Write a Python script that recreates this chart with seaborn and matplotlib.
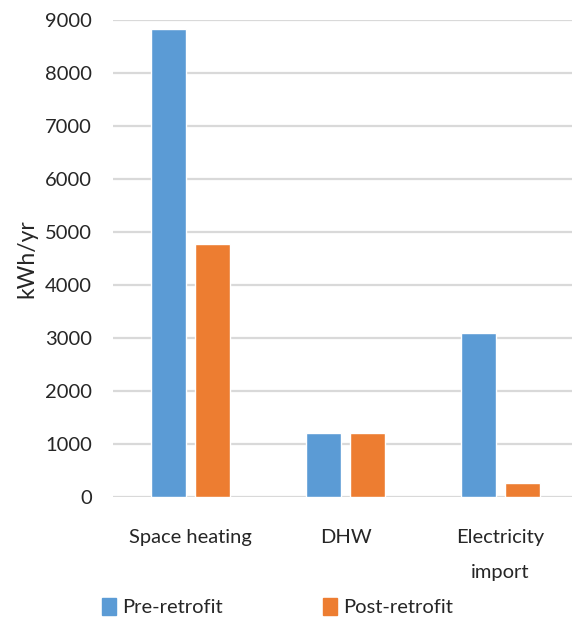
import matplotlib
matplotlib.use("Agg")
import matplotlib.pyplot as plt
import seaborn as sns
import pandas as pd

categories = ["Space heating", "DHW", "Electricity\nimport"]
pre_retrofit = [8830, 1210, 3100]
post_retrofit = [4770, 1210, 265]
series = ["Pre-retrofit", "Post-retrofit"]
yticks = [0, 1000, 2000, 3000, 4000, 5000, 6000, 7000, 8000, 9000]

df = pd.DataFrame({
    "cat": categories * 2,
    "val": pre_retrofit + post_retrofit,
    "series": [series[0]] * 3 + [series[1]] * 3,
})

sns.set_theme(style="white")
plt.rcParams["font.family"] = ["Lato", "DejaVu Sans"]

fig = plt.figure(figsize=(5.72, 6.24), dpi=100)
ax = fig.add_axes([113 / 572, 127 / 624, 465 / 572, 477 / 624])
sns.barplot(data=df, x="cat", y="val", hue="series",
            palette=["#5B9BD5", "#ED7D31"], width=0.568, gap=0.2,
            ax=ax, legend=False, saturation=1)
ax.set_ylim(0, 9000)
ax.set_xlim(-0.5, 2.5)
ax.set_yticks(yticks)
ax.set_yticklabels([str(t) for t in yticks], fontsize=14.5)
ax.yaxis.grid(True, color="#d9d9d9", linewidth=1.6)
ax.set_axisbelow(True)
for s in ax.spines.values():
    s.set_visible(False)
ax.tick_params(axis="y", length=0, pad=15)
ax.tick_params(axis="x", length=0, pad=23)
ax.set_xticklabels(categories, fontsize=14.5, linespacing=2.3, va="top")
ax.set_xlabel("")
ax.set_ylabel("kWh/yr", fontsize=16.5)
ax.yaxis.set_label_coords(-0.163, 0.5)

from matplotlib.patches import Patch
handles = [Patch(color="#5B9BD5"), Patch(color="#ED7D31")]
fig.legend(handles, series, loc="center", bbox_to_anchor=(0.485, 0.027),
           ncol=2, frameon=False, fontsize=14.5, handlelength=0.7,
           handleheight=0.9, handletextpad=0.3, columnspacing=5.0)

fig.savefig("out.png", dpi=100)
